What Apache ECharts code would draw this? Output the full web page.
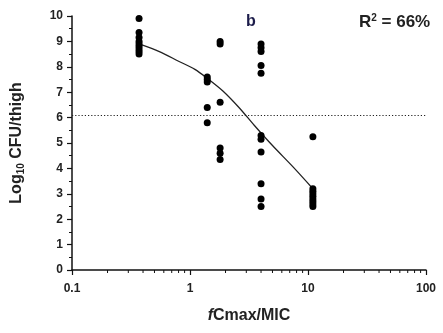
<!DOCTYPE html>
<html><head><meta charset="utf-8">
<script src="https://cdn.jsdelivr.net/npm/echarts@6/dist/echarts.min.js"></script>
<style>html,body{margin:0;padding:0;background:#fff}#c{width:443px;height:333px}</style>
</head><body><div id="c"></div>
<script>
// Doses (fCmax/MIC) and observed log10 CFU/thigh per dose group
const doses = [0.37, 1.4, 1.8, 4.0, 11];
const cfuDose1 = [9.9, 9.35, 9.15, 9.0, 8.9, 8.8, 8.7, 8.6, 8.5];
const cfuDose2 = [7.6, 7.5, 7.4, 6.4, 5.8];
const cfuDose3 = [9.0, 8.9, 6.6, 4.8, 4.6, 4.35];
const cfuDose4 = [8.9, 8.75, 8.6, 8.05, 7.75, 5.3, 5.15, 4.65, 3.4, 2.8, 2.5];
const cfuDose5 = [5.25, 3.2, 3.1, 3.0, 2.9, 2.8, 2.7, 2.6, 2.5];
// Fitted curve
const curveX = [0.37, 0.55, 0.8, 1.1, 1.4, 1.9, 2.6, 3.5, 5.0, 7.5, 11];
const curveY = [8.9, 8.6, 8.22, 7.9, 7.55, 7.05, 6.4, 5.7, 4.9, 4.05, 3.2];
// Reference (stasis) line
const stasisLevel = 6.1;
// Axis ticks
const xMinorTicks = [0.2,0.3,0.4,0.5,0.6,0.7,0.8,0.9,2,3,4,5,6,7,8,9,20,30,40,50,60,70,80,90];

const groups = [cfuDose1, cfuDose2, cfuDose3, cfuDose4, cfuDose5];
const scatterData = [];
groups.forEach((g, i) => g.forEach(v => scatterData.push([doses[i], v])));
const curveData = curveX.map((x, i) => [x, curveY[i]]);

const chart = echarts.init(document.getElementById('c'), null, {renderer: 'canvas'});
const lab = {fontFamily: 'Liberation Sans, Arial, sans-serif', fontWeight: 'bold', color: '#222'};
chart.setOption({
  animation: false,
  backgroundColor: '#fff',
  grid: {left: 72, right: 17, top: 16, bottom: 63},
  xAxis: {
    type: 'log', logBase: 10, min: 0.1, max: 100,
    name: '{i|f}{n|Cmax/MIC}', nameLocation: 'middle', nameGap: 38,
    nameTextStyle: {rich: {
      i: Object.assign({}, lab, {fontSize: 16, fontStyle: 'italic'}),
      n: Object.assign({}, lab, {fontSize: 16})
    }},
    axisLine: {lineStyle: {color: '#111', width: 1.5}},
    axisTick: {show: true, length: 5, inside: false, lineStyle: {color: '#111', width: 1.2}},
    axisLabel: Object.assign({}, lab, {fontSize: 12, margin: 13, formatter: v => String(v)}),
    splitLine: {show: false}
  },
  yAxis: {
    type: 'value', min: 0, max: 10, interval: 1,
    name: '{n|Log}{s|10}{n| CFU/thigh}', nameLocation: 'middle', nameGap: 46, nameRotate: 90,
    nameTextStyle: {rich: {
      n: Object.assign({}, lab, {fontSize: 16}),
      s: Object.assign({}, lab, {fontSize: 10, padding: [8, 0, 0, 0]})
    }},
    axisLine: {show: true, lineStyle: {color: '#111', width: 1.5}},
    axisTick: {show: true, length: 5, lineStyle: {color: '#111', width: 1.2}},
    minorTick: {show: true, splitNumber: 2, length: 3, lineStyle: {color: '#111', width: 1}},
    axisLabel: Object.assign({}, lab, {fontSize: 12, margin: 9}),
    splitLine: {show: false}
  },
  series: [
    {
      type: 'line', data: curveData, smooth: 0.3, showSymbol: false, symbol: 'none',
      lineStyle: {color: '#222', width: 1.3}, z: 2,
      markLine: {
        silent: true, symbol: 'none', label: {show: false},
        lineStyle: {color: '#222', type: [1.2, 2], width: 1.2},
        data: [{yAxis: stasisLevel}]
      }
    },
    {
      type: 'scatter', data: scatterData, symbol: 'circle', symbolSize: 7,
      itemStyle: {color: '#000', opacity: 1}, z: 3
    },
    {
      type: 'custom', clip: false, silent: true,
      data: xMinorTicks.map(v => [v, 0]),
      renderItem: function (params, api) {
        const p = api.coord([api.value(0), 0]);
        return {type: 'line', shape: {x1: p[0], y1: p[1], x2: p[0], y2: p[1] + 3},
          style: {stroke: '#111', lineWidth: 1}};
      }
    }
  ],
  graphic: [
    {type: 'text', left: 246, top: 14, style: {text: 'b', font: 'bold 16px "Liberation Sans", Arial', fill: '#1c1c4a'}},
    {type: 'text', left: 359, top: 13, style: {
      text: '{n|R}{s|2}{n| = 66%}',
      rich: {n: {font: 'bold 17px "Liberation Sans", Arial', fill: '#222'},
             s: {font: 'bold 10px "Liberation Sans", Arial', fill: '#222', padding: [0, 0, 9, 0]}}
    }}
  ]
});
</script></body></html>
